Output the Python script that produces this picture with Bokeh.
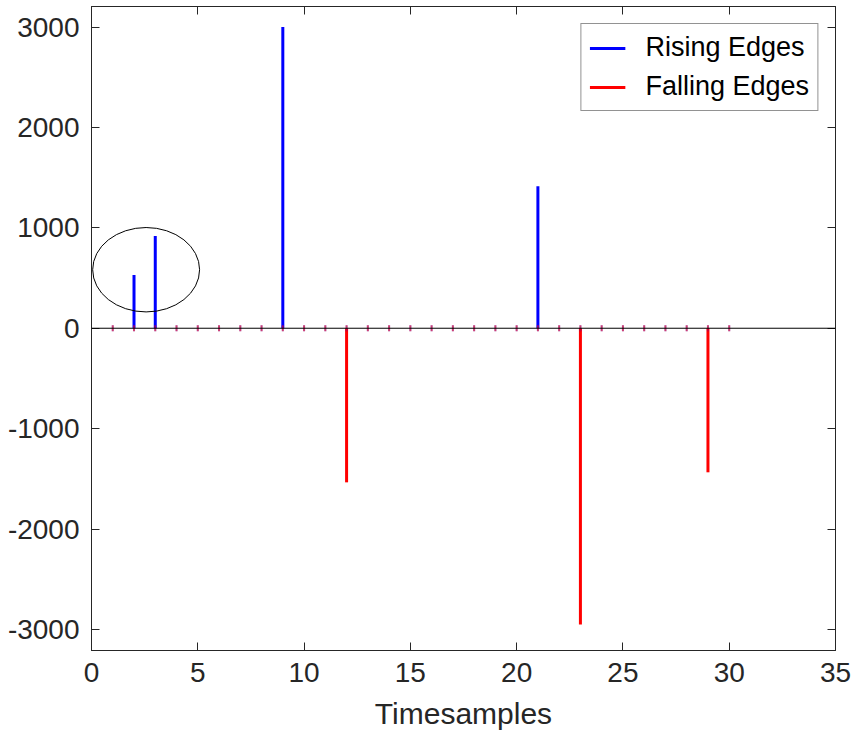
from bokeh.plotting import figure
from bokeh.models import (Range1d, LinearAxis, Span, Legend, LegendItem,
                          SingleIntervalTicker, PrintfTickFormatter, CustomJSTickFormatter)
from bokeh.embed import file_html
from bokeh.resources import INLINE

# ---- data ----
timesamples = list(range(1, 31))
rising = [0, 530, 920, 0, 0, 0, 0, 0, 3000, 0,
          0, 0, 0, 0, 0, 0, 0, 0, 0, 0,
          1415, 0, 0, 0, 0, 0, 0, 0, 0, 0]
falling = [0, 0, 0, 0, 0, 0, 0, 0, 0, 0,
           0, -1535, 0, 0, 0, 0, 0, 0, 0, 0,
           0, 0, -2950, 0, 0, 0, 0, 0, -1435, 0]
x_label = "Timesamples"
series_names = ["Rising Edges", "Falling Edges"]
# highlight ellipse annotation (data units)
ell_x, ell_y, ell_w, ell_h = 2.57, 583, 5.03, 841

FONT = "Liberation Sans"
TXT = "#262626"

p = figure(width=853, height=735, x_range=Range1d(0, 35), y_range=Range1d(-3210, 3205),
           output_backend="svg", toolbar_location=None,
           min_border_left=91, min_border_right=18, min_border_top=6, min_border_bottom=85)
p.xgrid.visible = False
p.ygrid.visible = False
p.outline_line_color = TXT
p.outline_line_width = 1
p.background_fill_color = "white"
p.border_fill_color = "white"

p.xaxis.ticker = SingleIntervalTicker(interval=5, num_minor_ticks=0)
p.yaxis.ticker = SingleIntervalTicker(interval=1000, num_minor_ticks=0)
p.xaxis.formatter = PrintfTickFormatter(format="%d")
p.yaxis.formatter = PrintfTickFormatter(format="%d")

for ax in (p.xaxis[0], p.yaxis[0]):
    ax.major_tick_in = 8
    ax.major_tick_out = 0
    ax.minor_tick_line_color = None
    ax.axis_line_color = TXT
    ax.major_tick_line_color = TXT
    ax.major_label_text_font = FONT
    ax.major_label_text_font_size = "28px"
    ax.major_label_text_color = TXT
p.xaxis.major_label_standoff = 12
p.yaxis.major_label_standoff = 12
p.xaxis.axis_label = x_label
p.xaxis.axis_label_text_font = FONT
p.xaxis.axis_label_text_font_size = "30px"
p.xaxis.axis_label_text_font_style = "normal"
p.xaxis.axis_label_text_color = TXT
p.xaxis.axis_label_standoff = 12

blank = CustomJSTickFormatter(code="return ''")
top = LinearAxis(ticker=SingleIntervalTicker(interval=5, num_minor_ticks=0), formatter=blank,
                 major_label_text_font_size="1px", major_tick_in=8, major_tick_out=0,
                 major_label_standoff=0, minor_tick_line_color=None,
                 axis_line_color=TXT, major_tick_line_color=TXT)
right = LinearAxis(ticker=SingleIntervalTicker(interval=1000, num_minor_ticks=0), formatter=blank,
                   major_label_text_font_size="1px", major_tick_in=8, major_tick_out=0,
                   major_label_standoff=0, minor_tick_line_color=None,
                   axis_line_color=TXT, major_tick_line_color=TXT)
p.add_layout(top, "above")
p.add_layout(right, "right")

zeros = [0] * len(timesamples)

# baseline
p.add_layout(Span(location=0, dimension="width", line_color="black", line_width=1))

r_rise = p.segment(x0=timesamples, y0=zeros, x1=timesamples, y1=rising,
                   line_color="#0000ff", line_width=3)
r_fall = p.segment(x0=timesamples, y0=zeros, x1=timesamples, y1=falling,
                   line_color="#ff0000", line_width=3)
# small caps of zero-length stems
p.scatter(x=timesamples, y=zeros, marker="dash", angle=1.5708, size=6,
          line_color="#0000ff", line_width=2, line_alpha=0.45)
p.scatter(x=timesamples, y=zeros, marker="dash", angle=1.5708, size=6,
          line_color="#ff0000", line_width=2, line_alpha=0.55)

p.ellipse(x=[ell_x], y=[ell_y], width=ell_w, height=ell_h,
          fill_color=None, line_color="black", line_width=1)

legend = Legend(items=[LegendItem(label=series_names[0], renderers=[r_rise]),
                       LegendItem(label=series_names[1], renderers=[r_fall])],
                location="top_right", margin=17, padding=8, spacing=8,
                glyph_width=36, glyph_height=30, label_height=30, label_standoff=20,
                label_text_font=FONT, label_text_font_size="27px", label_text_color="black",
                border_line_color="#262626", border_line_width=1,
                background_fill_color="white", background_fill_alpha=1)
p.add_layout(legend)

open("out.html", "w").write(file_html(p, INLINE))
